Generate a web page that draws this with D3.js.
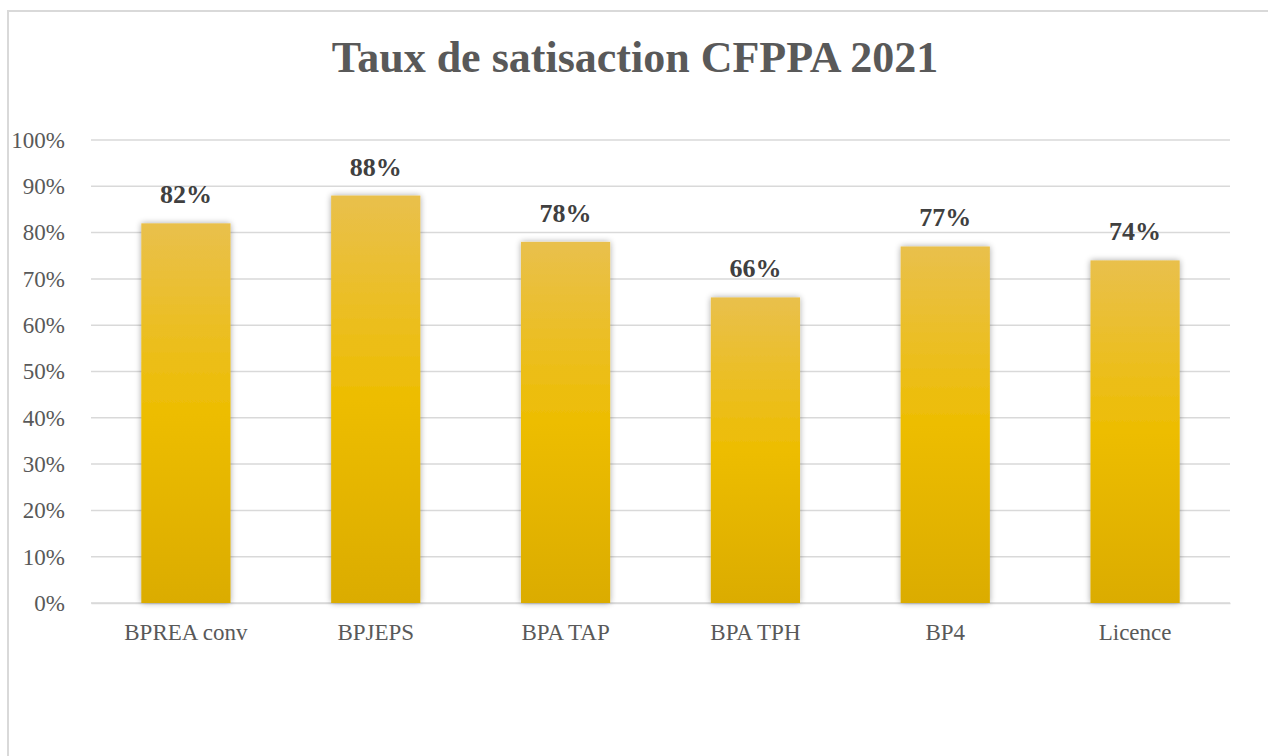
<!DOCTYPE html>
<html>
<head>
<meta charset="utf-8">
<script src="https://cdn.jsdelivr.net/npm/d3@7"></script>
<style>
  body { margin: 0; background: #fff; }
  svg { display: block; }
</style>
</head>
<body>
<svg id="chart"></svg>
<script>
const width = 1268;
const height = 756;
const margin = { top: 140, right: 38, bottom: 153, left: 91 };
const font = "'Liberation Serif', 'Times New Roman', serif";

// Data
const categories = ["BPREA conv", "BPJEPS", "BPA TAP", "BPA TPH", "BP4", "Licence"];
const rates = [0.82, 0.88, 0.78, 0.66, 0.77, 0.74];
const yTicks = [0, 0.1, 0.2, 0.3, 0.4, 0.5, 0.6, 0.7, 0.8, 0.9, 1.0];
const title = "Taux de satisaction CFPPA 2021";

const svg = d3.select("#chart")
  .attr("width", width)
  .attr("height", height);

// Chart area border
svg.append("rect")
  .attr("x", 8)
  .attr("y", 11)
  .attr("width", width + 20)
  .attr("height", height + 20)
  .attr("fill", "#fff")
  .attr("stroke", "#d9d9d9")
  .attr("stroke-width", 2);

const defs = svg.append("defs");
const grad = defs.append("linearGradient")
  .attr("id", "gold")
  .attr("x1", 0).attr("y1", 0).attr("x2", 0).attr("y2", 1);
grad.append("stop").attr("offset", "0%").attr("stop-color", "#e9c04c");
grad.append("stop").attr("offset", "50%").attr("stop-color", "#edbd02");
grad.append("stop").attr("offset", "100%").attr("stop-color", "#dbac00");

const shadow = defs.append("filter")
  .attr("id", "shadow")
  .attr("x", "-20%").attr("y", "-10%")
  .attr("width", "140%").attr("height", "120%");
shadow.append("feGaussianBlur").attr("in", "SourceAlpha").attr("stdDeviation", 3);
shadow.append("feComponentTransfer")
  .append("feFuncA").attr("type", "linear").attr("slope", 0.35);
const merge = shadow.append("feMerge");
merge.append("feMergeNode");
merge.append("feMergeNode").attr("in", "SourceGraphic");

// Scales
const xScale = d3.scaleBand()
  .domain(categories)
  .range([margin.left, width - margin.right])
  .paddingInner(0.53)
  .paddingOuter(0.265);

const yScale = d3.scaleLinear()
  .domain([0, 1])
  .range([height - margin.bottom, margin.top]);

// Gridlines
svg.append("g")
  .selectAll("line")
  .data(yTicks)
  .join("line")
  .attr("x1", margin.left)
  .attr("x2", width - margin.right)
  .attr("y1", d => yScale(d))
  .attr("y2", d => yScale(d))
  .attr("stroke", "#d9d9d9")
  .attr("stroke-width", 1.5);

// Y axis
const yAxis = d3.axisLeft(yScale)
  .tickValues(yTicks)
  .tickFormat(d3.format(".0%"))
  .tickSize(0)
  .tickPadding(26);
svg.append("g")
  .attr("transform", `translate(${margin.left}, 0)`)
  .call(yAxis)
  .attr("font-family", font)
  .attr("font-size", 23)
  .call(g => g.select(".domain").remove())
  .selectAll("text")
  .attr("fill", "#595959");

// X axis
const xAxis = d3.axisBottom(xScale).tickSize(0).tickPadding(21);
svg.append("g")
  .attr("transform", `translate(0, ${height - margin.bottom})`)
  .call(xAxis)
  .attr("font-family", font)
  .attr("font-size", 23)
  .call(g => g.select(".domain").attr("stroke", "#d9d9d9").attr("stroke-width", 1.5))
  .selectAll("text")
  .attr("fill", "#595959");

// Bars
svg.append("g")
  .selectAll("rect")
  .data(rates)
  .join("rect")
  .attr("x", (d, i) => xScale(categories[i]))
  .attr("y", d => yScale(d))
  .attr("width", xScale.bandwidth())
  .attr("height", d => yScale(0) - yScale(d))
  .attr("fill", "url(#gold)")
  .attr("filter", "url(#shadow)");

// Value labels
svg.append("g")
  .selectAll("text")
  .data(rates)
  .join("text")
  .attr("x", (d, i) => xScale(categories[i]) + xScale.bandwidth() / 2)
  .attr("y", d => yScale(d) - 20)
  .attr("text-anchor", "middle")
  .attr("font-family", font)
  .attr("font-size", 26)
  .attr("font-weight", "bold")
  .attr("fill", "#404040")
  .text(d => d3.format(".0%")(d));

// Title
svg.append("text")
  .attr("x", 635)
  .attr("y", 72)
  .attr("text-anchor", "middle")
  .attr("font-family", font)
  .attr("font-size", 44)
  .attr("font-weight", "bold")
  .attr("fill", "#595959")
  .text(title);
</script>
</body>
</html>
